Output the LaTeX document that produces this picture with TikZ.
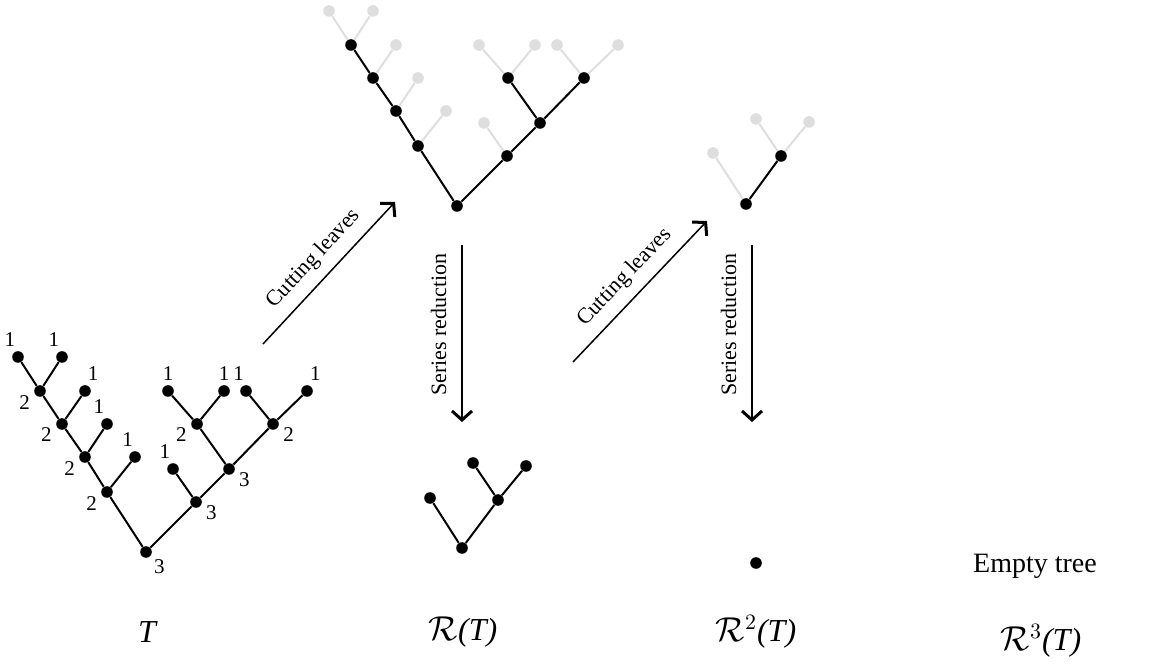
\documentclass[tikz,border=0pt]{standalone}
\usepackage{fontspec}
\setmainfont{Liberation Serif}
\usetikzlibrary{arrows.meta}

\begin{document}
\begin{tikzpicture}[x=0.5pt,y=-0.5pt,
  vertex/.style={circle,fill=black,inner sep=0pt,minimum size=5.8pt},
  cut/.style={vertex,fill=black!13},
  edge/.style={line width=1pt},
  cutedge/.style={line width=1pt,draw=black!13},
  every label/.style={font=\fontsize{10.5}{12}\selectfont,inner sep=0.5pt},
  label distance=1.5pt,
  move/.style={line width=0.75pt,-{Straight Barb[length=4.5pt,width=10pt,line width=1.5pt]}},
  word/.style={font=\fontsize{11}{13}\selectfont},
  caption/.style={font=\fontsize{16}{18}\selectfont}]
\useasboundingbox (0,0) rectangle (1149,672);

% the tree T with its labels
\node[vertex,label=-42:3] (t) at (146,552) {};
\node[vertex,label=200:2] (t-a1) at (107,492) {};
\node[vertex,label=200:2] (t-a2) at (85,457) {};
\node[vertex,label=195:2] (t-a3) at (62,424) {};
\node[vertex,label=200:2] (t-a4) at (40,391) {};
\node[vertex,label=100:1] (t-l1) at (18,357) {};
\node[vertex,label=100:1] (t-l2) at (62,357) {};
\node[vertex,label=80:1] (t-l3) at (85,391) {};
\node[vertex,label=100:1] (t-l4) at (107,424) {};
\node[vertex,label=95:1] (t-l5) at (135,457) {};
\node[vertex,label=-16:3] (t-b1) at (196,502) {};
\node[vertex,label=-16:3] (t-b2) at (229,469) {};
\node[vertex,label=195:2] (t-b3) at (197,424) {};
\node[vertex,label=-15:2] (t-b4) at (273,424) {};
\node[vertex,label=100:1] (t-l6) at (173,469) {};
\node[vertex,label=90:1] (t-l7) at (168,391) {};
\node[vertex,label=90:1] (t-l8) at (224,391) {};
\node[vertex,label=95:1] (t-l9) at (246,391) {};
\node[vertex,label=80:1] (t-l10) at (307,391) {};
\path[edge]
(t) edge (t-a1) (t-a1) edge (t-a2) (t-a2) edge (t-a3) (t-a3) edge (t-a4)
(t-a4) edge (t-l1) (t-a4) edge (t-l2) (t-a3) edge (t-l3)
(t-a2) edge (t-l4) (t-a1) edge (t-l5)
(t) edge (t-b1) (t-b1) edge (t-b2) (t-b2) edge (t-b3) (t-b2) edge (t-b4)
(t-b1) edge (t-l6) (t-b3) edge (t-l7) (t-b3) edge (t-l8)
(t-b4) edge (t-l9) (t-b4) edge (t-l10);

% R(T): same tree, leaves cut
\begin{scope}[shift={(311,-346)}]
\node[vertex] (r) at (146,552) {};
\node[vertex] (r-a1) at (107,492) {};
\node[vertex] (r-a2) at (85,457) {};
\node[vertex] (r-a3) at (62,424) {};
\node[vertex] (r-a4) at (40,391) {};
\node[cut] (r-l1) at (18,357) {};
\node[cut] (r-l2) at (62,357) {};
\node[cut] (r-l3) at (85,391) {};
\node[cut] (r-l4) at (107,424) {};
\node[cut] (r-l5) at (135,457) {};
\node[vertex] (r-b1) at (196,502) {};
\node[vertex] (r-b2) at (229,469) {};
\node[vertex] (r-b3) at (197,424) {};
\node[vertex] (r-b4) at (273,424) {};
\node[cut] (r-l6) at (173,469) {};
\node[cut] (r-l7) at (168,391) {};
\node[cut] (r-l8) at (224,391) {};
\node[cut] (r-l9) at (246,391) {};
\node[cut] (r-l10) at (307,391) {};
\end{scope}
\path[cutedge]
(r-a4) edge (r-l1) (r-a4) edge (r-l2) (r-a3) edge (r-l3)
(r-a2) edge (r-l4) (r-a1) edge (r-l5)
(r-b1) edge (r-l6) (r-b3) edge (r-l7) (r-b3) edge (r-l8)
(r-b4) edge (r-l9) (r-b4) edge (r-l10);
\path[edge]
(r) edge (r-a1) (r-a1) edge (r-a2) (r-a2) edge (r-a3) (r-a3) edge (r-a4)
(r) edge (r-b1) (r-b1) edge (r-b2) (r-b2) edge (r-b3) (r-b2) edge (r-b4);

% R(T) after series reduction
\node[vertex] (s) at (462,548) {};
\node[vertex] (s-a) at (430,498) {};
\node[vertex] (s-b) at (498,500) {};
\node[vertex] (s-c) at (473,463) {};
\node[vertex] (s-d) at (526,466) {};
\path[edge] (s) edge (s-a) (s) edge (s-b) (s-b) edge (s-c) (s-b) edge (s-d);

% R^2(T)
\node[vertex] (q) at (746,204) {};
\node[cut] (q-a) at (713,153) {};
\node[vertex] (q-b) at (781,156) {};
\node[cut] (q-c) at (756,119) {};
\node[cut] (q-d) at (809,122) {};
\path[cutedge] (q) edge (q-a) (q-b) edge (q-c) (q-b) edge (q-d);
\path[edge] (q) edge (q-b);

\node[vertex] (e) at (756,563) {};
\node[font=\fontsize{14}{16}\selectfont] (empty) at (1035,566) {Empty tree};

% arrows
\coordinate (cut1-s) at (263,344);
\coordinate (cut1-e) at (395,202);
\coordinate (red1-s) at (462,245);
\coordinate (red1-e) at (462,422);
\coordinate (cut2-s) at (573,362);
\coordinate (cut2-e) at (707,221);
\coordinate (red2-s) at (752,245);
\coordinate (red2-e) at (752,422);
\draw[move] (cut1-s) -- node[word,sloped,above,inner sep=5pt] {Cutting leaves} (cut1-e);
\draw[move] (cut2-s) -- node[word,sloped,above,inner sep=5pt] {Cutting leaves} (cut2-e);
\draw[move] (red1-s) -- node[word,rotate=90,anchor=south,inner sep=7.5pt,pos=0.45] {Series reduction} (red1-e);
\draw[move] (red2-s) -- node[word,rotate=90,anchor=south,inner sep=7.5pt,pos=0.45] {Series reduction} (red2-e);

% captions
\node[caption] (cap0) at (148,632) {\textit{T}};
\node[caption] (cap1) at (463,632) {$\mathcal{R}$\textit{(T)}};
\node[caption] (cap2) at (756,632) {$\mathcal{R}^2$\textit{(T)}};
\node[caption] (cap3) at (1041,641) {$\mathcal{R}^3$\textit{(T)}};
\end{tikzpicture}
\end{document}
